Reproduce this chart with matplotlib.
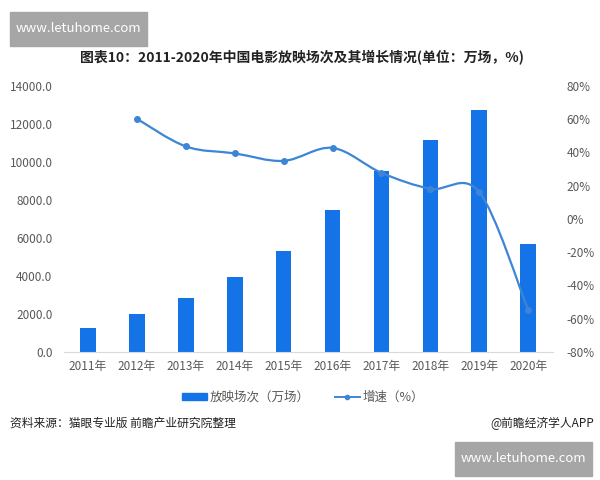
import numpy as np
import matplotlib.pyplot as plt
from matplotlib.path import Path
from matplotlib.patches import PathPatch
from matplotlib.lines import Line2D
from matplotlib.ticker import FuncFormatter

plt.rcParams['font.family'] = ['Noto Sans CJK SC', 'DejaVu Sans']

# データ
years = ['2011年', '2012年', '2013年', '2014年', '2015年',
         '2016年', '2017年', '2018年', '2019年', '2020年']
screenings = [1270, 1990, 2850, 3930, 5300, 7460, 9500, 11130, 12740, 5700]
growth_years = years[1:]
growth = [60.2, 43.6, 39.4, 34.9, 42.7, 27.7, 18.1, 16.1, -54.8]

bar_color = '#1473E6'
line_color = '#3D85D6'
tick_color = '#595959'

fig = plt.figure(figsize=(6, 4.8), dpi=100)
ax = fig.add_axes([0.106, 0.267, 0.815, 0.554])
ax2 = ax.twinx()

x = np.arange(len(years))
ax.bar(x, screenings, width=0.32, color=bar_color, zorder=2)
ax.set_xlim(-0.5, len(years) - 0.5)
ax.set_ylim(0, 14000)
ax.set_yticks(np.arange(0, 14001, 2000))
ax.yaxis.set_major_formatter(FuncFormatter(lambda v, p: f'{v:.1f}'))
ax.set_xticks(x)
ax.set_xticklabels(years)

# 平滑曲線（Catmull-Rom → ベジェ）
gx = x[1:].astype(float)
gy = np.array(growth, dtype=float)
verts = [(gx[0], gy[0])]
codes = [Path.MOVETO]
n = len(gx)
for i in range(n - 1):
    p0 = (gx[max(i - 1, 0)], gy[max(i - 1, 0)])
    p1 = (gx[i], gy[i])
    p2 = (gx[i + 1], gy[i + 1])
    p3 = (gx[min(i + 2, n - 1)], gy[min(i + 2, n - 1)])
    c1 = (p1[0] + (p2[0] - p0[0]) / 6, p1[1] + (p2[1] - p0[1]) / 6)
    c2 = (p2[0] - (p3[0] - p1[0]) / 6, p2[1] - (p3[1] - p1[1]) / 6)
    verts += [c1, c2, p2]
    codes += [Path.CURVE4] * 3
ax2.add_patch(PathPatch(Path(verts, codes), facecolor='none',
                        edgecolor=line_color, lw=1.6, zorder=3))
ax2.plot(gx, gy, 'o', color=line_color, ms=4, zorder=4)
ax2.set_ylim(-80, 80)
ax2.set_yticks(np.arange(-80, 81, 20))
ax2.yaxis.set_major_formatter(FuncFormatter(lambda v, p: f'{v:.0f}%'))

for a in (ax, ax2):
    for s in a.spines.values():
        s.set_visible(False)
    a.tick_params(length=0, labelsize=8.5, labelcolor=tick_color)
ax.spines['bottom'].set_visible(True)
ax.spines['bottom'].set_color('#D9D9D9')
ax.tick_params(axis='y', pad=8)
ax2.tick_params(axis='y', pad=10)
ax.tick_params(axis='x', pad=6)

# 凡例
handles = [plt.Rectangle((0, 0), 1, 1, color=bar_color),
           Line2D([], [], color=line_color, marker='o', ms=3, lw=1.4)]
fig.legend(handles, ['放映场次（万场）', '增速（%）'], loc='center',
           bbox_to_anchor=(0.505, 1 - 397 / 480), ncol=2, frameon=False,
           fontsize=9, handlelength=2.0, handleheight=0.5, handletextpad=0.2,
           columnspacing=2.0, labelcolor=tick_color)

fig.text(0.503, 1 - 58 / 480, '图表10：2011-2020年中国电影放映场次及其增长情况(单位：万场，%)',
         ha='center', va='center', fontsize=10, fontweight='bold', color='#222222')
fig.text(10 / 600, 1 - 423 / 480, '资料来源：猫眼专业版 前瞻产业研究院整理',
         ha='left', va='center', fontsize=8.5, color='#222222')
fig.text(594 / 600, 1 - 423 / 480, '@前瞻经济学人APP',
         ha='right', va='center', fontsize=8.5, color='#222222')

# 透かしボックス
for (bx, by) in [(10, 12), (455, 442)]:
    fig.patches.append(plt.Rectangle((bx / 600, 1 - (by + 34) / 480), 137 / 600, 34 / 480,
                                     transform=fig.transFigure, color='#A6A6A6', zorder=5))
    fig.text((bx + 68) / 600, 1 - (by + 17) / 480, 'www.letuhome.com',
             ha='center', va='center', fontsize=9.5, color='white', zorder=6)

fig.savefig('out.png', dpi=100)
